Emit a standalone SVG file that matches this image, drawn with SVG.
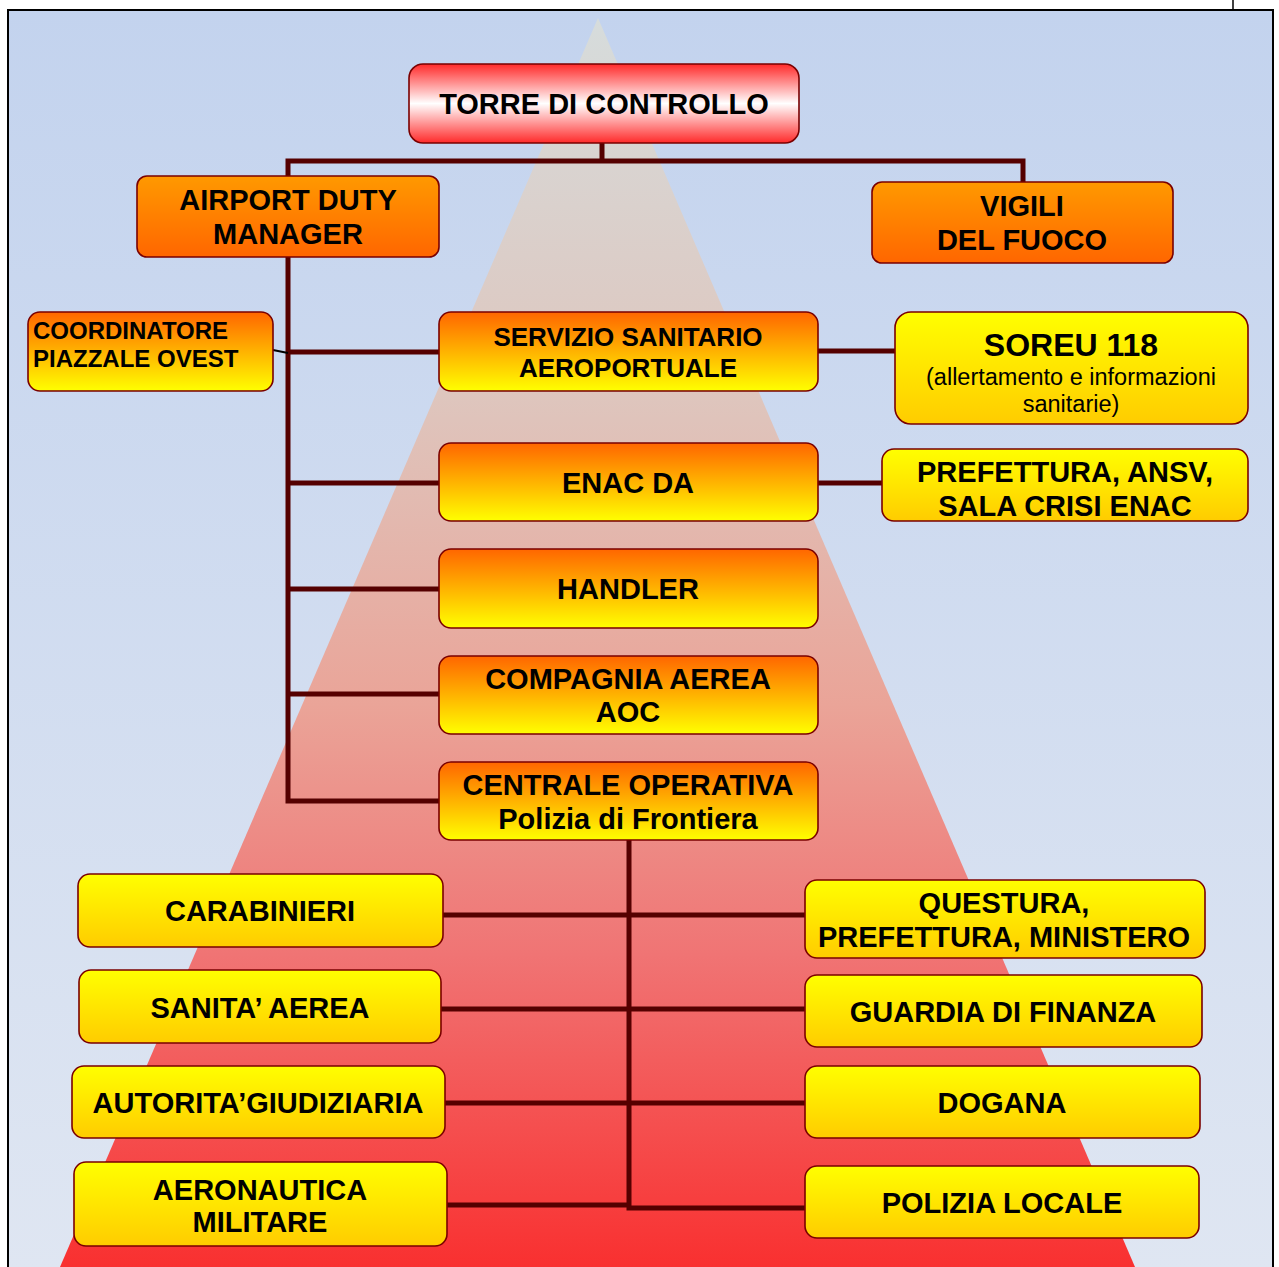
<svg xmlns="http://www.w3.org/2000/svg" width="1279" height="1267" viewBox="0 0 1279 1267">
<defs>
<linearGradient id="bg" x1="0" y1="0" x2="0" y2="1"><stop offset="0" stop-color="#c3d3ee"/><stop offset="1" stop-color="#dfe6f2"/></linearGradient>
<linearGradient id="tri" x1="0" y1="0" x2="0" y2="1"><stop offset="0" stop-color="#d6dcdc"/><stop offset="0.3" stop-color="#dec6be"/><stop offset="0.55" stop-color="#eaa498"/><stop offset="0.75" stop-color="#f07474"/><stop offset="1" stop-color="#f93030"/></linearGradient>
<linearGradient id="gRed" x1="0" y1="0" x2="0" y2="1"><stop offset="0" stop-color="#ff2a2a"/><stop offset="0.5" stop-color="#ffffff"/><stop offset="1" stop-color="#ff2a2a"/></linearGradient>
<linearGradient id="gOr" x1="0" y1="0" x2="0" y2="1"><stop offset="0" stop-color="#ff9900"/><stop offset="1" stop-color="#ff6600"/></linearGradient>
<linearGradient id="gOY" x1="0" y1="0" x2="0" y2="1"><stop offset="0" stop-color="#ff6600"/><stop offset="1" stop-color="#ffff00"/></linearGradient>
<linearGradient id="gY" x1="0" y1="0" x2="0" y2="1"><stop offset="0" stop-color="#ffff00"/><stop offset="1" stop-color="#ffcc00"/></linearGradient>
</defs>
<style>
.box{stroke:#7a0000;stroke-width:1.6}
.t{font-family:"Liberation Sans",Arial,sans-serif;font-weight:bold;font-size:29px;fill:#000;text-anchor:middle}
.s23{font-size:24px;text-anchor:start}
.s26{font-size:26px}
.s32{font-size:32px}
.r{font-weight:normal;font-size:23.5px}
.c{fill:none;stroke:#550000;stroke-width:5}
</style>
<rect x="8" y="10" width="1265" height="1260" fill="url(#bg)" stroke="#000" stroke-width="2"/>
<line x1="1233" y1="0" x2="1233" y2="10" stroke="#000" stroke-width="1.5"/>
<polygon points="598,18 1135,1267 60,1267" fill="url(#tri)"/>

<g id="connectors">
<path class="c" d="M602,143 V161 M288,176 V161 H1023 V182"/>
<path class="c" d="M288,257 V801 H439 M288,352 H439 M288,483 H439 M288,589 H439 M288,694 H439"/>
<line x1="273" y1="350" x2="288" y2="353" stroke="#000" stroke-width="2"/>
<path class="c" d="M818,351 H895 M818,483 H882"/>
<path class="c" d="M629,840 V1208 H805 M443,915 H805 M441,1009 H805 M445,1103 H805 M447,1205 H629"/>
</g>

<g id="torre"><rect class="box" x="409" y="64" width="390" height="79" rx="14" fill="url(#gRed)"/><text class="t" x="604" y="114">TORRE DI CONTROLLO</text></g>
<g id="adm"><rect class="box" x="137" y="176" width="302" height="81" rx="10" fill="url(#gOr)"/><text class="t" x="288" y="210">AIRPORT DUTY</text><text class="t" x="288" y="244">MANAGER</text></g>
<g id="vigili"><rect class="box" x="872" y="182" width="301" height="81" rx="10" fill="url(#gOr)"/><text class="t" x="1022" y="216">VIGILI</text><text class="t" x="1022" y="250">DEL FUOCO</text></g>
<g id="coordinatore"><rect class="box" x="28" y="312" width="245" height="79" rx="12" fill="url(#gOY)"/><text class="t s23" x="33" y="339">COORDINATORE</text><text class="t s23" x="33" y="367">PIAZZALE OVEST</text></g>
<g id="servizio"><rect class="box" x="439" y="312" width="379" height="79" rx="12" fill="url(#gOY)"/><text class="t s26" x="628" y="346">SERVIZIO SANITARIO</text><text class="t s26" x="628" y="377">AEROPORTUALE</text></g>
<g id="soreu"><rect class="box" x="895" y="312" width="353" height="112" rx="16" fill="url(#gY)"/><text class="t s32" x="1071" y="356">SOREU 118</text><text class="t r" x="1071" y="385">(allertamento e informazioni</text><text class="t r" x="1071" y="412">sanitarie)</text></g>
<g id="enac"><rect class="box" x="439" y="443" width="379" height="78" rx="12" fill="url(#gOY)"/><text class="t" x="628" y="493">ENAC DA</text></g>
<g id="prefettura"><rect class="box" x="882" y="449" width="366" height="72" rx="12" fill="url(#gY)"/><text class="t" x="1065" y="482">PREFETTURA, ANSV,</text><text class="t" x="1065" y="516">SALA CRISI ENAC</text></g>
<g id="handler"><rect class="box" x="439" y="549" width="379" height="79" rx="12" fill="url(#gOY)"/><text class="t" x="628" y="599">HANDLER</text></g>
<g id="compagnia"><rect class="box" x="439" y="656" width="379" height="78" rx="12" fill="url(#gOY)"/><text class="t" x="628" y="689">COMPAGNIA AEREA</text><text class="t" x="628" y="722">AOC</text></g>
<g id="centrale"><rect class="box" x="439" y="762" width="379" height="78" rx="12" fill="url(#gOY)"/><text class="t" x="628" y="795">CENTRALE OPERATIVA</text><text class="t" x="628" y="829">Polizia di Frontiera</text></g>
<g id="carabinieri"><rect class="box" x="78" y="874" width="365" height="73" rx="12" fill="url(#gY)"/><text class="t" x="260" y="921">CARABINIERI</text></g>
<g id="sanita"><rect class="box" x="79" y="970" width="362" height="73" rx="12" fill="url(#gY)"/><text class="t" x="260" y="1018">SANITA’ AEREA</text></g>
<g id="autorita"><rect class="box" x="72" y="1066" width="373" height="72" rx="12" fill="url(#gY)"/><text class="t" x="258" y="1113">AUTORITA’GIUDIZIARIA</text></g>
<g id="aeronautica"><rect class="box" x="74" y="1162" width="373" height="84" rx="12" fill="url(#gY)"/><text class="t" x="260" y="1200">AERONAUTICA</text><text class="t" x="260" y="1232">MILITARE</text></g>
<g id="questura"><rect class="box" x="805" y="880" width="400" height="78" rx="12" fill="url(#gY)"/><text class="t" x="1004" y="913">QUESTURA,</text><text class="t" x="1004" y="947">PREFETTURA, MINISTERO</text></g>
<g id="guardia"><rect class="box" x="805" y="975" width="397" height="72" rx="12" fill="url(#gY)"/><text class="t" x="1003" y="1022">GUARDIA DI FINANZA</text></g>
<g id="dogana"><rect class="box" x="805" y="1066" width="395" height="72" rx="12" fill="url(#gY)"/><text class="t" x="1002" y="1113">DOGANA</text></g>
<g id="polizia"><rect class="box" x="805" y="1166" width="394" height="72" rx="12" fill="url(#gY)"/><text class="t" x="1002" y="1213">POLIZIA LOCALE</text></g>
</svg>
